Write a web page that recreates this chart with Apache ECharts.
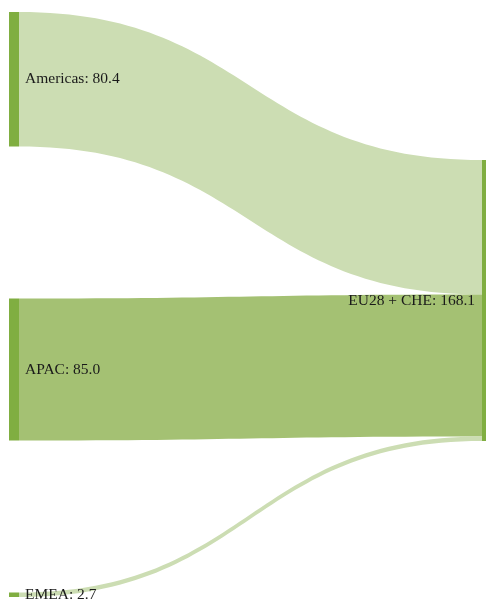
<!DOCTYPE html>
<html>
<head>
<meta charset="utf-8">
<script src="https://cdn.jsdelivr.net/npm/echarts@6/dist/echarts.min.js"></script>
<style>html,body{margin:0;padding:0;background:#fff;}#c{width:486px;height:603px;}</style>
</head>
<body>
<div id="c"></div>
<script>
const sources = ['Americas', 'APAC', 'EMEA'];
const values = [80.4, 85.0, 2.7];
const target = 'EU28 + CHE';
const linkColors = ['#CCDDB3', '#A4C173', '#CCDDB3'];
const nodeColor = '#80AE41';

const total = values.reduce((a, b) => a + b, 0);
const nodeValue = {};
sources.forEach((s, i) => nodeValue[s] = values[i]);
nodeValue[target] = total;

const H = 585;
const nodes = sources.map(s => ({ name: s, itemStyle: { color: nodeColor } }));
nodes.push({ name: target, localY: 148 / H, itemStyle: { color: nodeColor }, label: { position: 'left', distance: 7 } });
const links = sources.map((s, i) => ({ source: s, target: target, value: values[i], lineStyle: { color: linkColors[i], opacity: 1 } }));

const chart = echarts.init(document.getElementById('c'));
chart.setOption({
  animation: false,
  series: [{
    type: 'sankey',
    left: 9, right: -6, top: 12, bottom: 6,
    nodeWidth: 10,
    nodeGap: 152,
    layoutIterations: 0,
    draggable: false,
    emphasis: { disabled: true },
    data: nodes,
    links: links,
    lineStyle: { curveness: 0.5, opacity: 1 },
    label: {
      position: 'right', distance: 6,
      fontFamily: 'Liberation Serif', fontSize: 15.5, color: '#1a1a1a',
      formatter: p => p.name + ': ' + nodeValue[p.name].toFixed(1)
    }
  }]
});
</script>
</body>
</html>
